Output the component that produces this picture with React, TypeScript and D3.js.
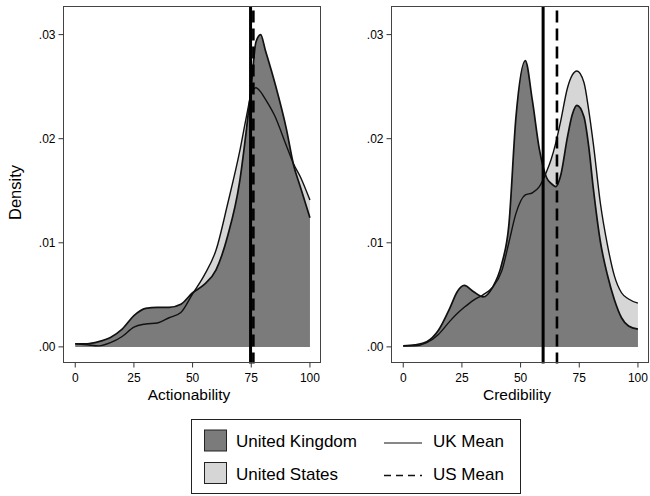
import { useEffect, useRef } from 'react';
import * as d3 from 'd3';

// density grid (x) and values
const actionGrid = [0, 5, 10, 15, 20, 25, 30, 35, 40, 45, 50, 55, 60, 65, 70, 73, 75, 77, 79, 81, 85, 90, 93, 96, 100];
const actionUK = [0.0003, 0.0003, 0.0005, 0.0009, 0.0017, 0.003, 0.0037, 0.0038, 0.0038, 0.0041, 0.0052, 0.006, 0.0074, 0.0107, 0.0158, 0.021, 0.025, 0.0293, 0.03, 0.0285, 0.0254, 0.0209, 0.0175, 0.0153, 0.0124];
const actionUS = [0.0003, 0.0002, 0.0001, 0.0004, 0.001, 0.0019, 0.0022, 0.0023, 0.0028, 0.0033, 0.0051, 0.0069, 0.0093, 0.0138, 0.0187, 0.0222, 0.0243, 0.0249, 0.0245, 0.0238, 0.0222, 0.0193, 0.0176, 0.0163, 0.0141];

const credGrid = [0, 5, 10, 15, 20, 23, 26, 30, 34, 38, 42, 45, 48, 52, 55, 58, 61, 63, 65, 67, 70, 72, 74, 77, 79, 81, 84, 87, 90, 93, 96, 100];
const credUK = [0.0001, 0.0002, 0.0005, 0.0016, 0.0038, 0.0053, 0.0059, 0.0053, 0.0048, 0.0057, 0.008, 0.0117, 0.022, 0.0275, 0.0237, 0.019, 0.0163, 0.0157, 0.0154, 0.0164, 0.0202, 0.0223, 0.0232, 0.0221, 0.0193, 0.0152, 0.0101, 0.0069, 0.0045, 0.0028, 0.002, 0.0017];
const credUS = [0.0001, 0.0001, 0.0004, 0.0012, 0.0025, 0.0032, 0.0038, 0.0045, 0.005, 0.0057, 0.0073, 0.01, 0.0128, 0.0146, 0.0148, 0.0154, 0.0168, 0.018, 0.0196, 0.0216, 0.0249, 0.0261, 0.0265, 0.0254, 0.0228, 0.0195, 0.0138, 0.0098, 0.0068, 0.0052, 0.0046, 0.0042];

// means (vertical lines)
const actionMeans = { uk: 74.7, us: 75.9 };
const credMeans = { uk: 59.6, us: 65.5 };

const xTicks = [0, 25, 50, 75, 100];
const yTicks = [0, 0.01, 0.02, 0.03];

const UK_FILL = '#7b7b7b';
const US_FILL = '#d6d6d6';
const FONT = '"Liberation Sans", Arial, sans-serif';

const App = () => {
  const svgRef = useRef<SVGSVGElement | null>(null);

  useEffect(() => {
    const svg = d3.select(svgRef.current);
    svg.selectAll('*').remove();

    const top = 6.5;
    const bottom = 362.5;
    const panels = [
      { left: 63.5, grid: actionGrid, uk: actionUK, us: actionUS, means: actionMeans, title: 'Actionability', density: true },
      { left: 391.5, grid: credGrid, uk: credUK, us: credUS, means: credMeans, title: 'Credibility', density: false },
    ];
    const panelWidth = 257;

    const y = d3.scaleLinear().domain([-0.0015, 0.0327]).range([bottom, top]);
    const fmt = (v: number) => d3.format('.2f')(v).replace(/^0/, '');

    panels.forEach((p) => {
      const x = d3.scaleLinear().domain([-5, 104.5]).range([p.left, p.left + panelWidth]);
      const g = svg.append('g');

      const pts = (vals: number[]) => p.grid.map((v, i) => [v, vals[i]] as [number, number]);

      const area = d3
        .area<[number, number]>()
        .x((d) => x(d[0]))
        .y0(y(0))
        .y1((d) => y(d[1]))
        .curve(d3.curveMonotoneX);
      const line = d3
        .line<[number, number]>()
        .x((d) => x(d[0]))
        .y((d) => y(d[1]))
        .curve(d3.curveMonotoneX);

      // US first, UK on top, then both outlines
      g.append('path').attr('d', area(pts(p.us))).attr('fill', US_FILL);
      g.append('path').attr('d', area(pts(p.uk))).attr('fill', UK_FILL);
      g.append('path').attr('d', line(pts(p.uk))).attr('fill', 'none').attr('stroke', '#111').attr('stroke-width', 1.7);
      g.append('path').attr('d', line(pts(p.us))).attr('fill', 'none').attr('stroke', '#111').attr('stroke-width', 1.4);

      // mean lines
      g.append('line')
        .attr('x1', x(p.means.us)).attr('x2', x(p.means.us))
        .attr('y1', top + 4).attr('y2', bottom + 1)
        .attr('stroke', '#000').attr('stroke-width', 2.6)
        .attr('stroke-dasharray', '12,6');
      g.append('line')
        .attr('x1', x(p.means.uk)).attr('x2', x(p.means.uk))
        .attr('y1', top).attr('y2', bottom + 1)
        .attr('stroke', '#000').attr('stroke-width', 3);

      // frame
      g.append('rect')
        .attr('x', p.left).attr('y', top)
        .attr('width', panelWidth).attr('height', bottom - top)
        .attr('fill', 'none').attr('stroke', '#444').attr('stroke-width', 1);

      // x axis ticks
      xTicks.forEach((t) => {
        g.append('line')
          .attr('x1', x(t)).attr('x2', x(t))
          .attr('y1', bottom).attr('y2', bottom + 5)
          .attr('stroke', '#333');
        g.append('text')
          .attr('x', x(t)).attr('y', bottom + 19)
          .attr('text-anchor', 'middle')
          .style('font-family', FONT).style('font-size', '12px')
          .text(t);
      });

      // y axis ticks
      yTicks.forEach((t) => {
        g.append('line')
          .attr('x1', p.left - 5).attr('x2', p.left)
          .attr('y1', y(t)).attr('y2', y(t))
          .attr('stroke', '#333');
        g.append('text')
          .attr('x', p.left - 8).attr('y', y(t))
          .attr('dy', '0.35em')
          .attr('text-anchor', 'end')
          .style('font-family', FONT).style('font-size', '12px')
          .text(fmt(t));
      });

      g.append('text')
        .attr('x', p.left + panelWidth / 2 - 3).attr('y', 400)
        .attr('text-anchor', 'middle')
        .style('font-family', FONT).style('font-size', '15.5px')
        .text(p.title);

      if (p.density) {
        g.append('text')
          .attr('transform', `translate(21,${(top + bottom) / 2 + 8}) rotate(-90)`)
          .attr('text-anchor', 'middle')
          .style('font-family', FONT).style('font-size', '16.5px')
          .text('Density');
      }
    });

    // legend
    const lg = svg.append('g');
    lg.append('rect')
      .attr('x', 191.5).attr('y', 419.5)
      .attr('width', 329).attr('height', 74)
      .attr('fill', 'none').attr('stroke', '#222').attr('stroke-width', 1);

    const rows = [
      { fill: UK_FILL, label: 'United Kingdom', mean: 'UK Mean', dash: null as string | null, yy: 441 },
      { fill: US_FILL, label: 'United States', mean: 'US Mean', dash: '7,5', yy: 473.5 },
    ];
    rows.forEach((r) => {
      lg.append('rect')
        .attr('x', 204.5).attr('y', r.yy - 11)
        .attr('width', 22).attr('height', 21)
        .attr('fill', r.fill).attr('stroke', '#222').attr('stroke-width', 1);
      lg.append('text')
        .attr('x', 236).attr('y', r.yy + 6)
        .style('font-family', FONT).style('font-size', '17px')
        .text(r.label);
      const ln = lg.append('line')
        .attr('x1', 384).attr('x2', 422)
        .attr('y1', r.yy + 2).attr('y2', r.yy + 2)
        .attr('stroke', '#111').attr('stroke-width', r.dash ? 1.6 : 1);
      if (r.dash) ln.attr('stroke-dasharray', r.dash);
      lg.append('text')
        .attr('x', 433).attr('y', r.yy + 6)
        .style('font-family', FONT).style('font-size', '17px')
        .text(r.mean);
    });
  }, []);

  return (
    <svg
      ref={svgRef}
      width={650}
      height={496}
      style={{ position: 'absolute', left: 0, top: 0, background: '#fff' }}
    />
  );
};

export default App;
